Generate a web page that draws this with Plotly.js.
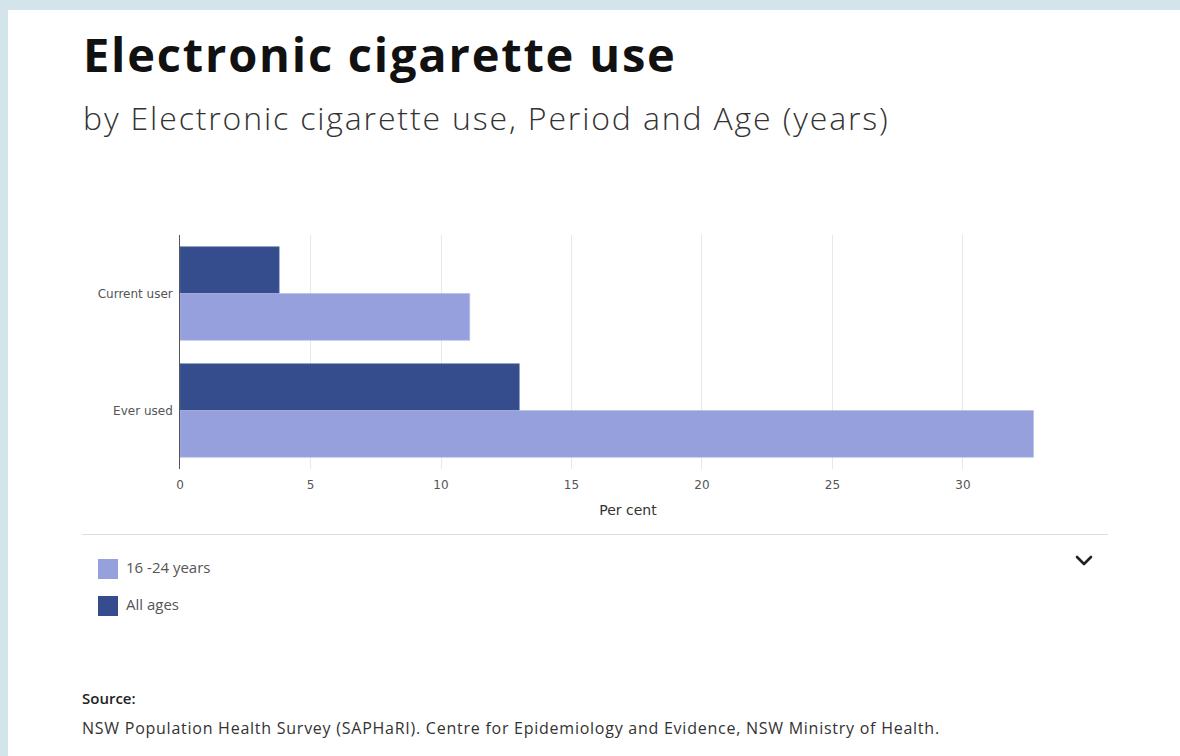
<!DOCTYPE html>
<html>
<head>
<meta charset="utf-8">
<script src="https://cdn.plot.ly/plotly-3.0.1.min.js"></script>
<style>
  html, body { margin:0; padding:0; width:1180px; height:756px; overflow:hidden; background:#d3e5eb; font-family:"Open Sans", "Noto Sans", sans-serif; }
  #card { position:absolute; left:8px; top:10px; width:1172px; height:746px; background:#fff; }
  #title { position:absolute; left:83px; top:22px; font-size:47px; font-weight:700; color:#111; white-space:nowrap; letter-spacing:1.8px; }
  #subtitle { position:absolute; left:83px; top:96px; font-size:32px; font-weight:300; color:#333; white-space:nowrap; letter-spacing:1.85px; }
  #chart { position:absolute; left:82px; top:180px; width:1026px; height:350px; }
  #sep { position:absolute; left:82px; top:534px; width:1026px; height:0; border-top:1.5px solid #dedede; }
  #chev { position:absolute; left:1075px; top:554px; width:18px; height:14px; }
  #legend { position:absolute; left:98px; top:558px; }
  .li { position:relative; height:37px; }
  .sw { position:absolute; left:0; top:1px; width:20px; height:20px; }
  .lt { position:absolute; left:28px; top:-1px; font-size:15px; color:#555; white-space:nowrap; }
  #srch { position:absolute; left:82px; top:688px; font-size:15px; font-weight:600; color:#222; }
  #src { position:absolute; left:82px; top:717px; font-size:16px; color:#333; white-space:nowrap; letter-spacing:0.75px; }
</style>
</head>
<body>
<div id="card"></div>
<div id="title">Electronic cigarette use</div>
<div id="subtitle">by Electronic cigarette use, Period and Age (years)</div>
<div id="chart"></div>
<div id="sep"></div>
<svg id="chev" viewBox="0 0 18 14"><polyline points="2,3 9,10 16,3" fill="none" stroke="#222" stroke-width="2.6" stroke-linecap="round" stroke-linejoin="round"/></svg>
<div id="legend"></div>
<div id="srch">Source:</div>
<div id="src">NSW Population Health Survey (SAPHaRI). Centre for Epidemiology and Evidence, NSW Ministry of Health.</div>
<script>
const categories = ["Current user", "Ever used"];
const allAges = [3.8, 13.0];
const youth = [11.1, 32.7];
const seriesNames = ["All ages", "16 -24 years"];
const seriesColors = ["#354d8c", "#96a0dc"];
const xTicks = [0, 5, 10, 15, 20, 25, 30];

const traces = [
  { type:"bar", orientation:"h", name:seriesNames[0], y:categories, x:allAges,
    marker:{ color:seriesColors[0], line:{ color:"#5a6fa8", width:0.6 } }, hoverinfo:"x+name" },
  { type:"bar", orientation:"h", name:seriesNames[1], y:categories, x:youth,
    marker:{ color:seriesColors[1], line:{ color:"#b2bae6", width:0.6 } }, hoverinfo:"x+name" }
];

const layout = {
  width:1026, height:350,
  margin:{ l:98, r:32, t:55, b:60.5 },
  paper_bgcolor:"#fff", plot_bgcolor:"#fff",
  barmode:"group", bargap:0.2, bargroupgap:0,
  showlegend:false,
  font:{ family:"DejaVu Sans, Verdana, sans-serif", color:"#555", size:12 },
  xaxis:{ range:[0, 34.33], tickvals:xTicks, ticktext:xTicks.map(String),
    showgrid:true, gridcolor:"#e8e8e8", gridwidth:1, zeroline:false, showline:false,
    ticks:"", ticklabelstandoff:7, tickfont:{ size:12, color:"#555" },
    title:{ text:"Per cent", font:{ family:"DejaVu Sans, Verdana, sans-serif", size:14, color:"#333" }, standoff:14 } },
  yaxis:{ autorange:"reversed", showline:true, linecolor:"#555", linewidth:1, ticks:"",
    tickfont:{ size:12, color:"#555" }, ticksuffix:" ", showgrid:false, zeroline:false }
};

Plotly.newPlot("chart", traces, layout, { displayModeBar:false, staticPlot:true });

// legend from series arrays (16-24 first, then All ages)
const leg = document.getElementById("legend");
[1, 0].forEach(i => {
  const d = document.createElement("div"); d.className = "li";
  const s = document.createElement("div"); s.className = "sw"; s.style.background = seriesColors[i];
  const t = document.createElement("div"); t.className = "lt"; t.textContent = seriesNames[i];
  d.appendChild(s); d.appendChild(t); leg.appendChild(d);
});
</script>
</body>
</html>
